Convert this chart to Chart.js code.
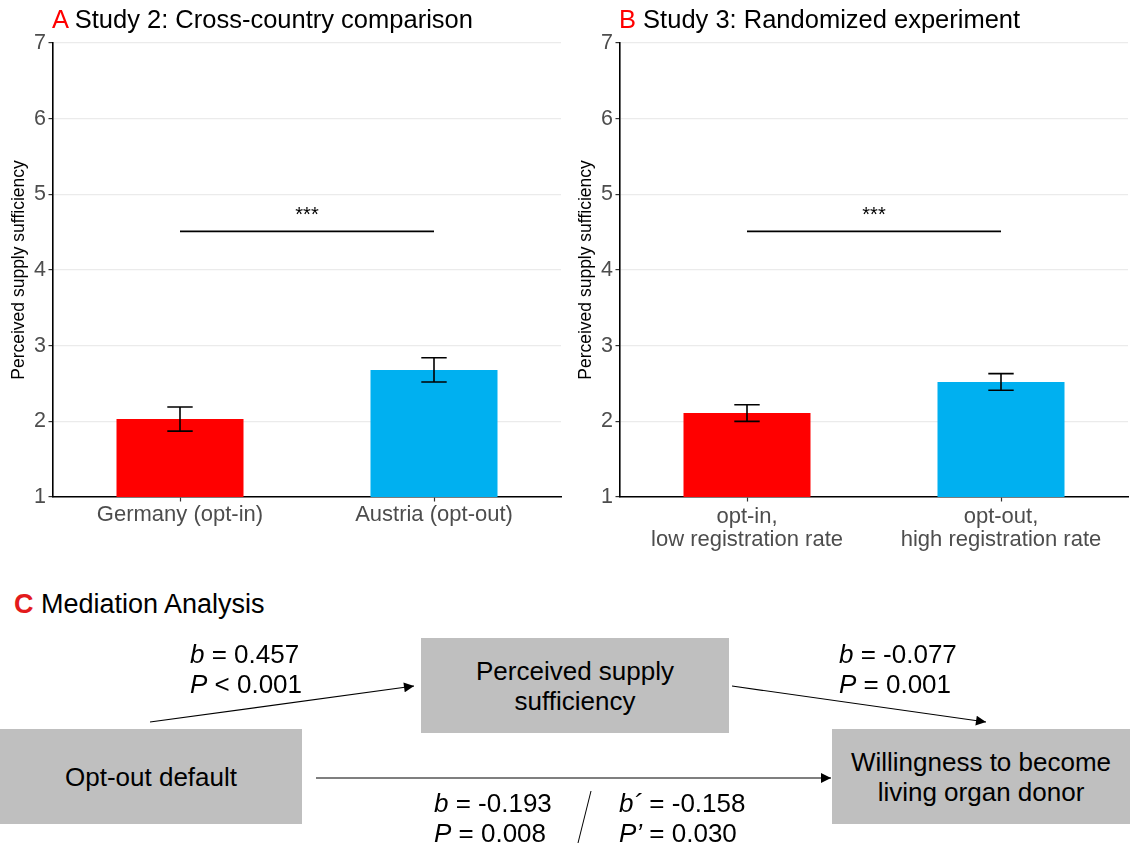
<!DOCTYPE html>
<html>
<head>
<meta charset="utf-8">
<script src="https://cdn.jsdelivr.net/npm/chart.js@4.4.1/dist/chart.umd.min.js"></script>
<style>
  html, body { margin: 0; padding: 0; background: #fff; }
  body { width: 1133px; height: 847px; position: relative; overflow: hidden;
         font-family: "Liberation Sans", Arial, sans-serif; color: #000; }
  canvas { position: absolute; top: 0; }
  .title { position: absolute; top: 6.7px; font-size: 25.5px; line-height: 1; white-space: nowrap; }
  .title .tag { color: #ff0000; }
  .txt { position: absolute; font-size: 26px; line-height: 30px; white-space: nowrap; }
  .box { position: absolute; background: #bfbfbf; display: flex; align-items: center; justify-content: center;
         text-align: center; font-size: 26px; line-height: 30px; white-space: nowrap; }
  svg { position: absolute; left: 0; top: 0; }
</style>
</head>
<body>
<canvas id="studyTwo" width="566" height="560" style="left:0px"></canvas>
<canvas id="studyThree" width="566" height="560" style="left:567px"></canvas>

<div class="title" style="left:52px"><span class="tag">A</span> Study 2: Cross-country comparison</div>
<div class="title" style="left:619px"><span class="tag">B</span> Study 3: Randomized experiment</div>

<!-- Panel C: mediation path diagram -->
<div class="txt" style="left:14px; top:588.7px; font-size:27px"><b style="color:#e31a1c">C</b> Mediation Analysis</div>

<svg width="1133" height="847">
  <defs>
    <marker id="head" viewBox="0 0 10 10" refX="10" refY="5" markerWidth="13" markerHeight="10"
            markerUnits="userSpaceOnUse" orient="auto">
      <path d="M0,0 L10,5 L0,10 z" fill="#000"/>
    </marker>
  </defs>
  <line x1="150" y1="722" x2="414" y2="686" stroke="#000" stroke-width="1.2" marker-end="url(#head)"/>
  <line x1="732" y1="686" x2="986" y2="722" stroke="#000" stroke-width="1.2" marker-end="url(#head)"/>
  <line x1="316" y1="778" x2="831" y2="778" stroke="#000" stroke-width="1.2" marker-end="url(#head)"/>
  <line x1="591" y1="791" x2="578" y2="843" stroke="#000" stroke-width="1"/>
</svg>

<div class="box" style="left:0px; top:729px; width:302px; height:95px;">Opt-out default</div>
<div class="box" style="left:421px; top:638px; width:308px; height:95px;">Perceived supply<br>sufficiency</div>
<div class="box" style="left:832px; top:729px; width:298px; height:95px;">Willingness to become<br>living organ donor</div>

<div class="txt" style="left:190px; top:639px"><i>b</i> = 0.457<br><i>P</i> &lt; 0.001</div>
<div class="txt" style="left:839px; top:639px"><i>b</i> = -0.077<br><i>P</i> = 0.001</div>
<div class="txt" style="left:434px; top:787.7px"><i>b</i> = -0.193<br><i>P</i> = 0.008</div>
<div class="txt" style="left:619px; top:787.7px"><i>b´</i> = -0.158<br><i>P’</i> = 0.030</div>

<script>
// Study 2: cross-country comparison (mean and standard error)
const studyTwoCategories = ['Germany (opt-in)', 'Austria (opt-out)'];
const studyTwoMeans = [2.03, 2.68];
const studyTwoErrors = [0.16, 0.16];

// Study 3: randomized experiment (mean and standard error)
const studyThreeCategories = [['opt-in,', 'low registration rate'], ['opt-out,', 'high registration rate']];
const studyThreeMeans = [2.11, 2.52];
const studyThreeErrors = [0.11, 0.11];

// Shared value axis and comparison bracket
const scaleMin = 1;
const scaleMax = 7;
const scaleStep = 1;
const significanceLevel = 4.51;
const significanceLabel = '***';
const axisTitle = 'Perceived supply sufficiency';
const conditionColors = ['#ff0000', '#00b0f0'];

const FONT = '"Liberation Sans", Arial, sans-serif';

// Draws the error bars and the significance bracket from the chart's own scales
const errorBarPlugin = {
  id: 'errorBars',
  afterDatasetsDraw(chart, args, opts) {
    const { ctx } = chart;
    const x = chart.scales.x, y = chart.scales.y;
    const band = x.getPixelForValue(1) - x.getPixelForValue(0);
    const half = band * 0.05;
    ctx.save();
    ctx.strokeStyle = '#000';
    ctx.lineWidth = 1.6;
    opts.means.forEach((m, i) => {
      const px = x.getPixelForValue(i);
      const top = y.getPixelForValue(m + opts.errors[i]);
      const bot = y.getPixelForValue(m - opts.errors[i]);
      ctx.beginPath();
      ctx.moveTo(px, top); ctx.lineTo(px, bot);
      ctx.moveTo(px - half, top); ctx.lineTo(px + half, top);
      ctx.moveTo(px - half, bot); ctx.lineTo(px + half, bot);
      ctx.stroke();
    });
    const yy = y.getPixelForValue(opts.level);
    const x0 = x.getPixelForValue(0), x1 = x.getPixelForValue(1);
    ctx.beginPath();
    ctx.moveTo(x0, yy); ctx.lineTo(x1, yy);
    ctx.stroke();
    ctx.fillStyle = '#000';
    ctx.font = '20px ' + FONT;
    ctx.textAlign = 'center';
    ctx.textBaseline = 'alphabetic';
    ctx.fillText(opts.label, (x0 + x1) / 2, yy - 10.5);
    ctx.restore();
  }
};

function makeChart(id, labels, means, errors, labelLineHeight, labelPadding) {
  return new Chart(document.getElementById(id), {
    type: 'bar',
    data: {
      labels: labels,
      datasets: [{
        data: means,
        backgroundColor: conditionColors,
        borderWidth: 0,
        categoryPercentage: 1,
        barPercentage: 0.5
      }]
    },
    options: {
      responsive: false,
      animation: false,
      devicePixelRatio: 1,
      layout: { padding: { top: 43, right: 5, bottom: 0, left: 0 } },
      plugins: {
        legend: { display: false },
        tooltip: { enabled: false },
        errorBars: { means: means, errors: errors, level: significanceLevel, label: significanceLabel }
      },
      scales: {
        x: {
          offset: true,
          grid: { display: true, drawOnChartArea: false, drawTicks: true, tickLength: 4.5,
                  tickColor: '#333', tickWidth: 1.2, offset: false },
          border: { display: true, color: '#000', width: 1.6 },
          ticks: { color: '#4d4d4d', font: { family: FONT, size: 22, lineHeight: labelLineHeight },
                   padding: labelPadding, maxRotation: 0, autoSkip: false },
          afterFit(s) { s.height = 63; }
        },
        y: {
          min: scaleMin,
          max: scaleMax,
          ticks: { stepSize: scaleStep, color: '#4d4d4d', font: { family: FONT, size: 21.5 }, padding: 2.5 },
          grid: { color: '#ebebeb', lineWidth: 1.2, tickLength: 4.5, tickColor: '#333', tickWidth: 1.2 },
          border: { display: true, color: '#000', width: 1.6 },
          title: { display: true, text: axisTitle, color: '#000',
                   font: { family: FONT, size: 17.5, lineHeight: 1 }, padding: { top: 10.25, bottom: 0 } },
          afterFit(s) { s.width = 53; }
        }
      }
    },
    plugins: [errorBarPlugin]
  });
}

makeChart('studyTwo', studyTwoCategories, studyTwoMeans, studyTwoErrors, 1.2, 0.5);
makeChart('studyThree', studyThreeCategories, studyThreeMeans, studyThreeErrors, 1.05, 3.5);
</script>
</body>
</html>
